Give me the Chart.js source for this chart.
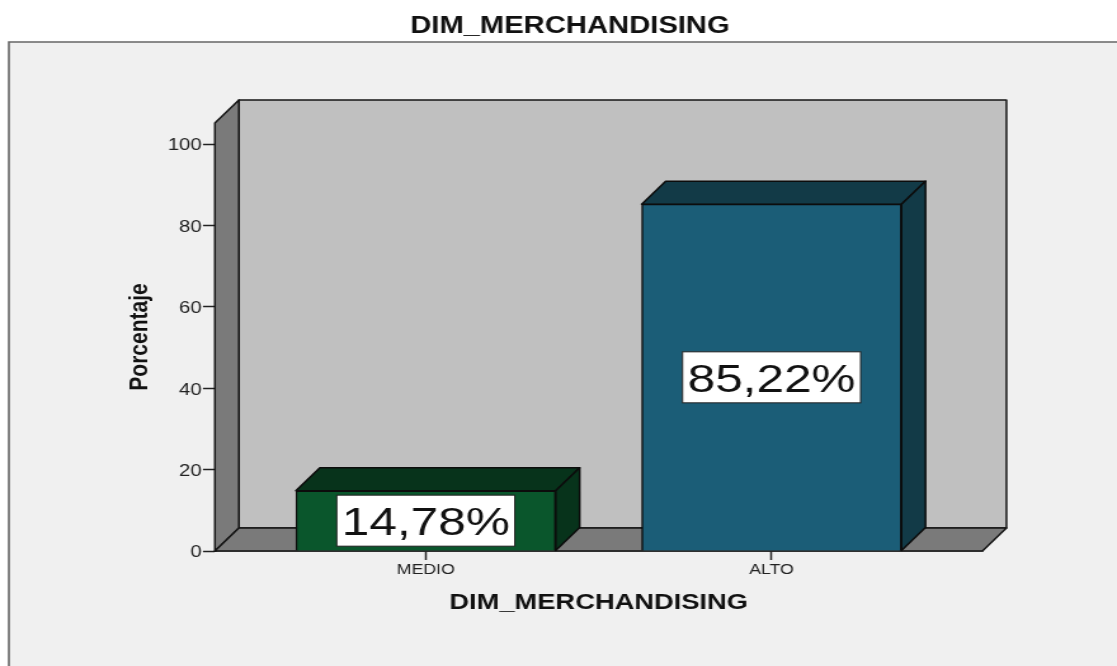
<!DOCTYPE html>
<html lang="en">
<head>
  <meta charset="UTF-8" />
  <title>DIM_MERCHANDISING</title>
  <script src="https://cdn.jsdelivr.net/npm/chart.js"></script>
  <style>
    html, body { margin: 0; background: #fff; overflow: hidden; }
    /* the whole figure is drawn narrow, then widened */
    #chart { display: block; transform-origin: 0 0; transform: scaleX(1.2693); }
  </style>
</head>
<body>
  <canvas id="chart" width="880" height="666"></canvas>

  <script>
    const categories = ['MEDIO', 'ALTO'];
    const percentages = [14.78, 85.22];
    const barFaces = ['#0a562c', '#1b5d77'];
    const barShades = ['#07331b', '#123a47'];
    const yTicksStep = 20;

    const depthX = 18.9;
    const depthY = 23;
    const fontName = '"Liberation Sans", Arial, sans-serif';

    function poly(ctx, pts, fill, stroke) {
      ctx.beginPath();
      pts.forEach((p, i) => i ? ctx.lineTo(p[0], p[1]) : ctx.moveTo(p[0], p[1]));
      ctx.closePath();
      ctx.fillStyle = fill;
      ctx.fill();
      ctx.lineWidth = 1.5;
      ctx.lineJoin = 'round';
      ctx.strokeStyle = stroke;
      ctx.stroke();
    }

    // Panel behind everything, plus the heading
    const panel = {
      id: 'panel',
      beforeDraw(chart) {
        const ctx = chart.ctx;
        ctx.save();
        ctx.fillStyle = '#fff';
        ctx.fillRect(0, 0, chart.width, chart.height);
        ctx.fillStyle = '#f0f0f0';
        ctx.fillRect(7, 42, chart.width, chart.height);
        ctx.strokeStyle = '#666';
        ctx.lineWidth = 1.6;
        ctx.beginPath();
        ctx.moveTo(7, chart.height);
        ctx.lineTo(7, 42);
        ctx.lineTo(chart.width, 42);
        ctx.stroke();
        ctx.fillStyle = '#111';
        ctx.font = 'bold 23px ' + fontName;
        ctx.textAlign = 'center';
        ctx.textBaseline = 'middle';
        ctx.fillText('DIM_MERCHANDISING', 449, 26.5);
        ctx.restore();
      }
    };

    // Walls and floor of the box, then the top and side of each bar
    const box3d = {
      id: 'box3d',
      beforeDatasetsDraw(chart) {
        const ctx = chart.ctx;
        const { left, right, top, bottom } = chart.chartArea;
        const line = '#151515';
        ctx.save();
        poly(ctx, [[left + depthX, top - depthY], [right + depthX, top - depthY], [right + depthX, bottom - depthY], [left + depthX, bottom - depthY]], '#c0c0c0', line);
        poly(ctx, [[left, top], [left + depthX, top - depthY], [left + depthX, bottom - depthY], [left, bottom]], '#7a7a7a', line);
        poly(ctx, [[left, bottom], [left + depthX, bottom - depthY], [right + depthX, bottom - depthY], [right, bottom]], '#7a7a7a', line);
        chart.getDatasetMeta(0).data.forEach((bar, i) => {
          const x1 = bar.x - bar.width / 2;
          const x2 = bar.x + bar.width / 2;
          poly(ctx, [[x1, bar.y], [x1 + depthX, bar.y - depthY], [x2 + depthX, bar.y - depthY], [x2, bar.y]], barShades[i], '#0c0c0c');
          poly(ctx, [[x2, bar.y], [x2 + depthX, bar.y - depthY], [x2 + depthX, bar.base - depthY], [x2, bar.base]], barShades[i], '#0c0c0c');
        });
        ctx.restore();
      },
      afterDatasetsDraw(chart) {
        // white value boxes in the middle of each bar
        const ctx = chart.ctx;
        ctx.save();
        ctx.font = '39px ' + fontName;
        ctx.textAlign = 'center';
        ctx.textBaseline = 'middle';
        chart.getDatasetMeta(0).data.forEach((bar, i) => {
          const label = percentages[i].toFixed(2).replace('.', ',') + '%';
          const w = ctx.measureText(label).width + 8;
          const h = 51;
          const cy = (bar.y + bar.base) / 2;
          ctx.fillStyle = '#fff';
          ctx.fillRect(bar.x - w / 2, cy - h / 2, w, h);
          ctx.strokeStyle = '#222';
          ctx.lineWidth = 1;
          ctx.strokeRect(bar.x - w / 2, cy - h / 2, w, h);
          ctx.fillStyle = '#111';
          ctx.fillText(label, bar.x, cy + 3.5);
        });
        ctx.restore();
      }
    };

    new Chart(document.getElementById('chart'), {
      type: 'bar',
      data: {
        datasets: [{
          data: categories.map((c, i) => ({ x: i, y: percentages[i] })),
          backgroundColor: barFaces,
          borderColor: '#0c0c0c',
          borderWidth: 1.5,
          barThickness: 204.7
        }]
      },
      options: {
        responsive: false,
        animation: false,
        devicePixelRatio: 1,
        layout: { padding: { top: 123, right: 106, left: 0, bottom: 0 } },
        plugins: { legend: { display: false }, title: { display: false }, tooltip: { enabled: false } },
        scales: {
          x: {
            type: 'linear',
            offset: false,
            min: -0.6098,
            max: 1.6098,
            afterBuildTicks: s => { s.ticks = categories.map((c, i) => ({ value: i })); },
            afterFit: s => { s.height = 115; },
            ticks: {
              callback: v => categories[v],
              font: { family: fontName, size: 14 },
              color: '#222',
              padding: 2,
              maxRotation: 0,
              autoSkip: false,
              includeBounds: false
            },
            grid: { offset: false, drawOnChartArea: false, tickLength: 9, tickWidth: 1.5, tickColor: '#222' },
            border: { color: '#151515', width: 1.5 },
            title: {
              display: true,
              text: 'DIM_MERCHANDISING',
              color: '#111',
              font: { family: fontName, size: 21.5, weight: 'bold' },
              padding: { top: 0, bottom: 50 }
            }
          },
          y: {
            min: 0,
            max: 105.16,
            afterFit: s => { s.width = 169.3; },
            ticks: {
              stepSize: yTicksStep,
              includeBounds: false,
              labelOffset: 2,
              font: { family: fontName, size: 16 },
              color: '#222',
              padding: 1
            },
            grid: { drawOnChartArea: false, tickLength: 9.4, tickWidth: 1.5, tickColor: '#222' },
            border: { color: '#151515', width: 1.5 },
            title: {
              display: true,
              text: 'Porcentaje',
              color: '#111',
              font: { family: fontName, size: 21, weight: 'bold' },
              padding: { top: 98, bottom: 0 }
            }
          }
        }
      },
      plugins: [panel, box3d]
    });
  </script>
</body>
</html>
